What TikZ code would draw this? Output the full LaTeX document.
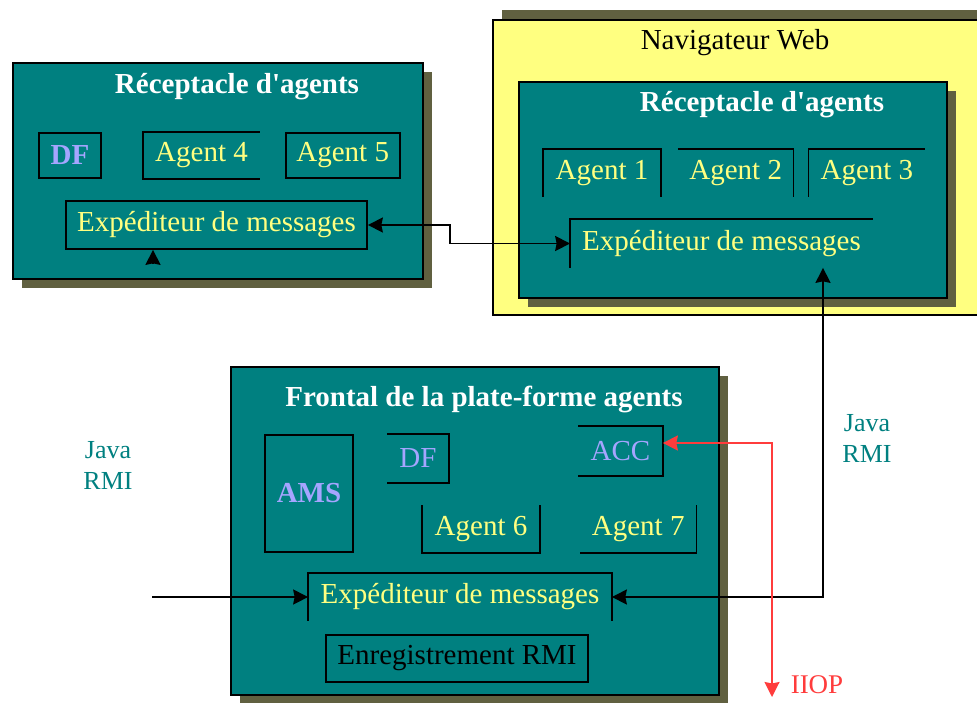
\documentclass[tikz,border=0pt]{standalone}
\usepackage{fontspec}
\setmainfont{Liberation Serif}[Ligatures=TeXOff]
\usetikzlibrary{arrows.meta,shadows,positioning}

\definecolor{tealbg}{RGB}{0,128,128}
\definecolor{navyel}{RGB}{255,255,128}
\definecolor{shadowol}{RGB}{96,96,64}
\definecolor{agtxt}{RGB}{255,255,128}
\definecolor{svctxt}{RGB}{165,165,255}
\definecolor{iiopred}{RGB}{255,60,60}
\definecolor{rmitxt}{RGB}{0,128,128}

\newcommand{\diagfont}{\fontsize{29}{33}\selectfont}

\tikzset{
  panel/.style={draw=black, line width=1.2pt, fill=tealbg, inner sep=0pt,
    drop shadow={shadow xshift=9pt, shadow yshift=-9pt, fill=shadowol, opacity=1}},
  slot/.style={inner sep=0pt, text=agtxt, font=\diagfont},
  svc/.style={inner sep=0pt, text=svctxt, font=\diagfont},
  title/.style={text=white, font=\diagfont\bfseries},
  proto/.style={text=rmitxt, align=center, font=\fontsize{26}{31}\selectfont},
}

\begin{document}
\begin{tikzpicture}[x=1pt,y=-1pt,line width=1.7pt,
        >={Stealth[length=15pt,width=15pt,inset=1.5pt]},font=\diagfont]
  \useasboundingbox (0,0) rectangle (977,702);

  % navigateur web
  \node[draw=black, line width=1.2pt, fill=navyel, inner sep=0pt,
        minimum width=492pt, minimum height=295pt,
        drop shadow={shadow xshift=9pt, shadow yshift=10pt, fill=shadowol, opacity=1}]
        (nav) at (739,167.5) {};
  \node (navtitle) at (735,43) {Navigateur Web};

  % receptacles
  \node[panel, minimum width=410pt, minimum height=216pt] (recepL) at (218,171) {};
  \node[title] (titleL) at (237,87) {Réceptacle d'agents};
  \node[panel, minimum width=428pt, minimum height=216pt] (recepR) at (733,190) {};
  \node[title] (titleR) at (762,105) {Réceptacle d'agents};

  % frontal
  \node[panel, minimum width=488pt, minimum height=328pt] (front) at (475,531) {};
  \node[title] (titleF) at (484,399) {Frontal de la plate-forme agents};

  % receptacle gauche
  \node[svc, draw, font=\diagfont\bfseries, minimum width=62pt, minimum height=45pt] (dfL) at (70,155.5) {DF};
  \node[slot, minimum width=115pt, minimum height=45pt] (ag4) at (201.5,155.5) {Agent 4};
  \node[slot, draw, minimum width=114pt, minimum height=45pt] (ag5) [right=25pt of ag4] {Agent 5};
  \node[slot, draw, minimum width=301pt, minimum height=48pt] (expL) at (216.5,225) {Expéditeur de messages};

  % receptacle droit
  \node[slot, minimum width=116pt, minimum height=46pt] (ag1) at (602,173) {Agent 1};
  \node[slot, minimum width=114pt, minimum height=46pt] (ag2) [right=17pt of ag1] {Agent 2};
  \node[slot, minimum width=115pt, minimum height=46pt] (ag3) [right=15pt of ag2] {Agent 3};
  \node[slot, minimum width=301pt, minimum height=47pt] (expR) at (721.5,243.5) {Expéditeur de messages};

  % frontal
  \node[svc, draw, font=\diagfont\bfseries, minimum width=88pt, minimum height=117pt] (ams) at (309,493.5) {AMS};
  \node[svc, minimum width=60pt, minimum height=47pt] (dfF) at (418,458.5) {DF};
  \node[svc, minimum width=83pt, minimum height=48pt] (acc) at (620.5,451) {ACC};
  \node[slot, minimum width=116pt, minimum height=46pt] (ag6) at (481,529) {Agent 6};
  \node[slot, minimum width=115pt, minimum height=46pt] (ag7) [right=40pt of ag6] {Agent 7};
  \node[slot, minimum width=302pt, minimum height=46pt] (expF) at (460,597) {Expéditeur de messages};
  \node[draw, inner sep=0pt, minimum width=262pt, minimum height=47pt] (rmi) at (457,658.5) {Enregistrement RMI};

  % open sides
  \draw (ag4.north east) -- (ag4.north west) -- (ag4.south west) -- (ag4.south east);
  \draw (ag1.south west) -- (ag1.north west) -- (ag1.north east) -- (ag1.south east);
  \draw (ag2.north west) -- (ag2.north east) -- (ag2.south east);
  \draw (ag3.south west) -- (ag3.north west) -- (ag3.north east);
  \draw (expR.south west) -- (expR.north west) -- (expR.north east);
  \draw (dfF.north west) -- (dfF.north east) -- (dfF.south east) -- (dfF.south west);
  \draw (acc.north west) -- (acc.north east) -- (acc.south east) -- (acc.south west);
  \draw (ag6.north west) -- (ag6.south west) -- (ag6.south east) -- (ag6.north east);
  \draw (ag7.north east) -- (ag7.south east) -- (ag7.south west);
  \draw (expF.south west) -- (expF.north west) -- (expF.north east) -- (expF.south east);

  % labels
  \node[proto] (javaL) at (108,465) {Java\\RMI};
  \node[proto] (javaR) at (867,438) {Java\\RMI};
  \node[text=iiopred, font=\fontsize{27}{31}\selectfont] (iiop) at (817,685) {IIOP};

  \coordinate (stub) at (153,264);
  \coordinate (rmiIn) at (152,597);
  \coordinate (iiopEnd) at (772,697);

  % connectors
  \draw[<->] (expL.east) -- ++(82,0) |- (expR.west);
  \draw[<->] (expF.east) -| ([xshift=101.5pt]expR.south);
  \draw[->] (rmiIn) -- (expF.west);
  \draw[->] (stub) -- (stub |- expL.south);
  \draw[<->, iiopred, line width=2pt] ([yshift=8pt]acc.east) -| (iiopEnd);

\end{tikzpicture}
\end{document}
